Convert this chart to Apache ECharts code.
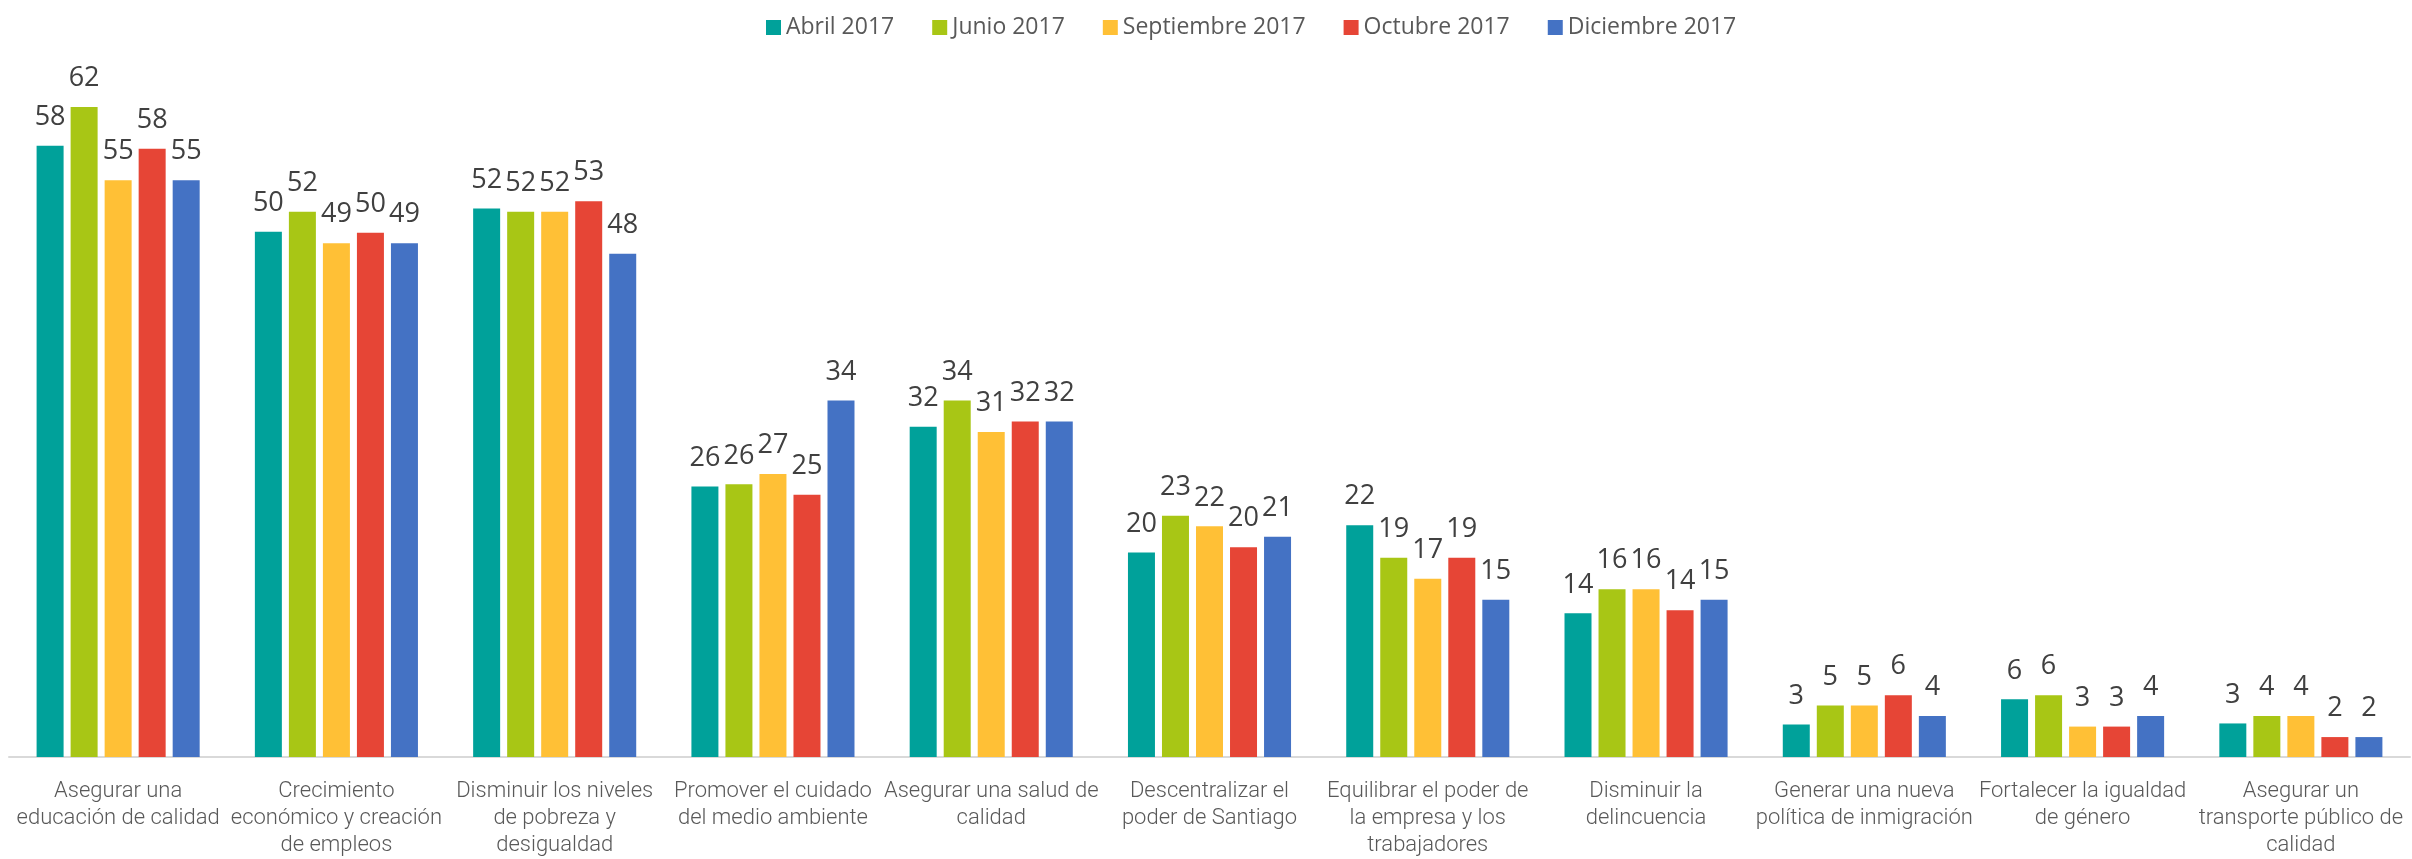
<!DOCTYPE html>
<html>
<head>
<meta charset="utf-8">
<script src="https://cdn.jsdelivr.net/npm/echarts@6/dist/echarts.min.js"></script>
<style>
  html, body { margin: 0; padding: 0; background: #ffffff; }
  #chart { width: 2412px; height: 859px; }
</style>
</head>
<body>
<div id="chart"></div>
<script>
const categories = [
  "Asegurar una\neducación de calidad",
  "Crecimiento\neconómico y creación\nde empleos",
  "Disminuir los niveles\nde pobreza y\ndesigualdad",
  "Promover el cuidado\ndel medio ambiente",
  "Asegurar una salud de\ncalidad",
  "Descentralizar el\npoder de Santiago",
  "Equilibrar el poder de\nla empresa y los\ntrabajadores",
  "Disminuir la\ndelincuencia",
  "Generar una nueva\npolítica de inmigración",
  "Fortalecer la igualdad\nde género",
  "Asegurar un\ntransporte público de\ncalidad"
];
const seriesNames = ["Abril 2017", "Junio 2017", "Septiembre 2017", "Octubre 2017", "Diciembre 2017"];
const abril2017      = [58.3, 50.1, 52.3, 25.8, 31.5, 19.5, 22.1, 13.7, 3.1, 5.5, 3.2];
const junio2017      = [62.0, 52.0, 52.0, 26.0, 34.0, 23.0, 19.0, 16.0, 4.9, 5.9, 3.9];
const septiembre2017 = [55.0, 49.0, 52.0, 27.0, 31.0, 22.0, 17.0, 16.0, 4.9, 2.9, 3.9];
const octubre2017    = [58.0, 50.0, 53.0, 25.0, 32.0, 20.0, 19.0, 14.0, 5.9, 2.9, 1.9];
const diciembre2017  = [55.0, 49.0, 48.0, 34.0, 32.0, 21.0, 15.0, 15.0, 3.9, 3.9, 1.9];
const seriesValues = [abril2017, junio2017, septiembre2017, octubre2017, diciembre2017];
const colors = ["#00A19A", "#A8C615", "#FFC036", "#E64536", "#4472C4"];

const chart = echarts.init(document.getElementById('chart'), null, { renderer: 'canvas' });
const option = {
  animation: false,
  backgroundColor: '#ffffff',
  color: colors,
  legend: {
    top: 11,
    left: 761,
    itemWidth: 15,
    itemHeight: 15,
    itemGap: 38,
    icon: 'rect',
    textStyle: { fontFamily: 'Open Sans', fontSize: 23, color: '#595959' },
    data: seriesNames
  },
  grid: { left: 9, right: 2, top: 23, bottom: 100, containLabel: false },
  xAxis: {
    type: 'category',
    data: categories,
    axisLine: { lineStyle: { color: '#d9d9d9', width: 2 } },
    axisTick: { show: false },
    axisLabel: {
      interval: 0,
      margin: 21,
      fontFamily: 'Roboto',
      fontWeight: 300,
      fontSize: 22,
      lineHeight: 27,
      color: '#595959'
    }
  },
  yAxis: {
    type: 'value',
    min: 0,
    max: 70,
    show: false,
    splitLine: { show: false }
  },
  series: seriesNames.map((name, i) => ({
    name: name,
    type: 'bar',
    data: seriesValues[i],
    barWidth: 27,
    barGap: '26%',
    itemStyle: { color: colors[i] },
    label: {
      show: true,
      position: 'top',
      distance: 15,
      fontFamily: 'Open Sans',
      fontSize: 27,
      color: '#404040',
      formatter: p => Math.round(p.value)
    }
  }))
};
chart.setOption(option);
</script>
</body>
</html>
